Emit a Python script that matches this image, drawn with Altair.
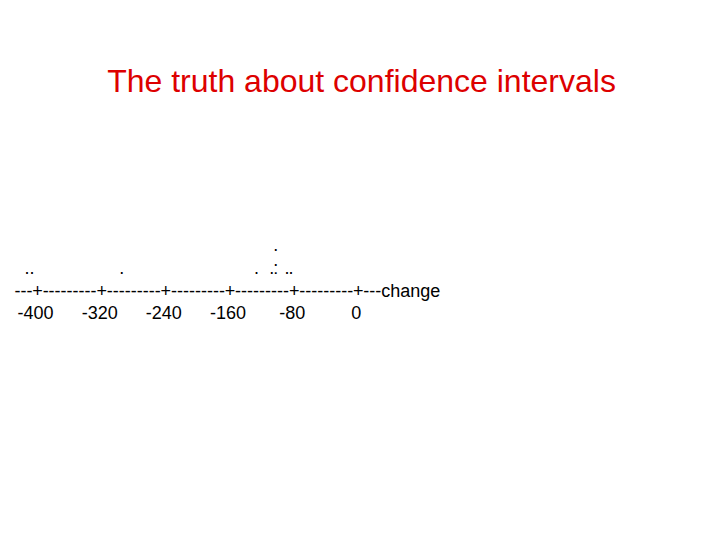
import altair as alt
import pandas as pd

# ---- data ----
title_text = "The truth about confidence intervals"
tick_values = [-400, -320, -240, -160, -80, 0]
tick_labels = ["-400", "-320", "-240", "-160", "-80", "0"]
axis_name = "change"
dot_values = [-413, -407, -295, -127, -108, -103, -89, -84]
dot_counts = [1, 1, 1, 1, 1, 3, 1, 1]

# character dot plot: ':' = two stacked observations, '.' = one
rows = []
for v, c in zip(dot_values, dot_counts):
    level, remaining = 1, c
    while remaining > 0:
        n = min(2, remaining)
        rows.append({"value": v, "row": level, "char": ":" if n == 2 else "."})
        remaining -= n
        level += 1
dots = pd.DataFrame(rows)

plus_df = pd.DataFrame({"value": tick_values, "row": 0, "char": "+"})
seg_df = pd.DataFrame({
    "value": [(a + b) / 2 for a, b in zip(tick_values[:-1], tick_values[1:])],
    "row": 0,
    "char": "-" * 9,
})
lead_df = pd.DataFrame({"value": [tick_values[0]], "row": [0], "char": ["---"]})
tail_df = pd.DataFrame({"value": [tick_values[-1]], "row": [0], "char": ["---" + axis_name]})
label_df = pd.DataFrame({"value": tick_values, "row": -1, "char": tick_labels})

FONT = "Liberation Sans"
xs = alt.Scale(domain=[-436.8, 436.0], nice=False, zero=False)
ys = alt.Scale(domain=[-9.889, 5.686], nice=False, zero=False)


def layer(df, align="center", dx=0):
    return alt.Chart(df).mark_text(
        font=FONT, fontSize=18, baseline="alphabetic", align=align, dx=dx, color="black"
    ).encode(
        x=alt.X("value:Q", scale=xs, axis=None),
        y=alt.Y("row:Q", scale=ys, axis=None),
        text="char:N",
    )


chart = alt.layer(
    layer(dots),
    layer(plus_df),
    layer(seg_df),
    layer(lead_df, align="right", dx=-5),
    layer(tail_df, align="left", dx=5),
    layer(label_df, dx=-2),
).properties(
    width=700,
    height=352,
    padding={"left": 0, "top": 160, "right": 0, "bottom": 0},
    autosize="none",
    title=alt.TitleParams(
        title_text, color="#dd0000", font=FONT, fontSize=32, fontWeight="normal",
        anchor="middle", offset=69, dx=3.5,
    ),
).configure_view(strokeWidth=0)

chart.save("out.html", embed_options={"renderer": "svg", "actions": False})
